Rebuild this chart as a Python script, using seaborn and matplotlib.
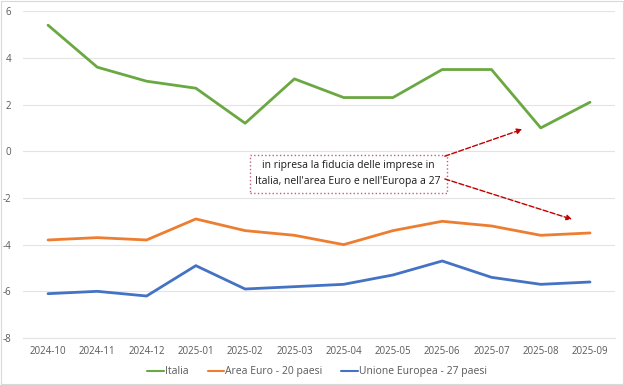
import matplotlib.pyplot as plt
import pandas as pd
import seaborn as sns
from matplotlib.patches import Rectangle

# DATA
months = ['2024-10', '2024-11', '2024-12', '2025-01', '2025-02', '2025-03',
          '2025-04', '2025-05', '2025-06', '2025-07', '2025-08', '2025-09']
italia = [5.4, 3.6, 3.0, 2.7, 1.2, 3.1, 2.3, 2.3, 3.5, 3.5, 1.0, 2.1]
area_euro = [-3.8, -3.7, -3.8, -2.9, -3.4, -3.6, -4.0, -3.4, -3.0, -3.2, -3.6, -3.5]
unione_europea = [-6.1, -6.0, -6.2, -4.9, -5.9, -5.8, -5.7, -5.3, -4.7, -5.4, -5.7, -5.6]
series_names = ['Italia', 'Area Euro - 20 paesi', 'Unione Europea - 27 paesi']
colors = ['#6aa842', '#ed7d31', '#4472c4']
y_ticks = [-8, -6, -4, -2, 0, 2, 4, 6]
note = "in ripresa la fiducia delle imprese in\nItalia, nell'area Euro e nell'Europa a 27"

data = pd.DataFrame({
    'Mese': months * 3,
    'Valore': italia + area_euro + unione_europea,
    'Serie': [s for s in series_names for _ in months],
})

sns.set_style('white')
plt.rcParams['font.family'] = ['Open Sans', 'DejaVu Sans']

fig = plt.figure(figsize=(6.24, 3.85), dpi=100)
ax = fig.add_axes([0.0375, 0.122, 0.9475, 0.849])

sns.lineplot(data=data, x='Mese', y='Valore', hue='Serie', hue_order=series_names,
             palette=colors, linewidth=2.0, sort=False, ax=ax)

ax.set_xlim(-0.5, len(months) - 0.5)
ax.set_ylim(-8, 6)
ax.set_yticks(y_ticks)
ax.set_yticklabels([str(t) for t in y_ticks])
ax.grid(axis='y', color='#e3e3e3', linewidth=0.8)
for side in ['top', 'right', 'left']:
    ax.spines[side].set_visible(False)
ax.spines['bottom'].set_color('#e3e3e3')
ax.tick_params(axis='x', length=0, labelsize=7, colors='#595959', pad=6)
ax.tick_params(axis='y', length=0, labelsize=7, colors='#595959', pad=9)
ax.set_xlabel('')
ax.set_ylabel('')

# Annotation box
ax.text(6.09, -0.96, note, ha='center', va='center', fontsize=7.5, color='#1a1a1a',
        linespacing=1.55,
        bbox=dict(boxstyle='square,pad=0.55', facecolor='white',
                  edgecolor='#c0607a', linestyle=':', linewidth=1))
arrow = dict(arrowstyle='-|>', color='#c00000', linestyle='--', linewidth=1,
             mutation_scale=8)
ax.annotate('', xy=(9.68, 0.98), xytext=(8.0, -0.25), arrowprops=arrow)
ax.annotate('', xy=(10.69, -2.95), xytext=(8.0, -1.15), arrowprops=arrow)

leg = ax.legend(loc='upper center', bbox_to_anchor=(0.497, -0.058), ncol=3,
                frameon=False, fontsize=7.5, handlelength=1.6, handletextpad=0.1,
                columnspacing=1.8)
for line in leg.get_lines():
    line.set_linewidth(1.5)
for text in leg.get_texts():
    text.set_color('#595959')

fig.patches.append(Rectangle((0.002, 0.003), 0.996, 0.994, transform=fig.transFigure,
                             fill=False, edgecolor='#d9d9d9', linewidth=0.8))

plt.savefig('out.png', dpi=100)
